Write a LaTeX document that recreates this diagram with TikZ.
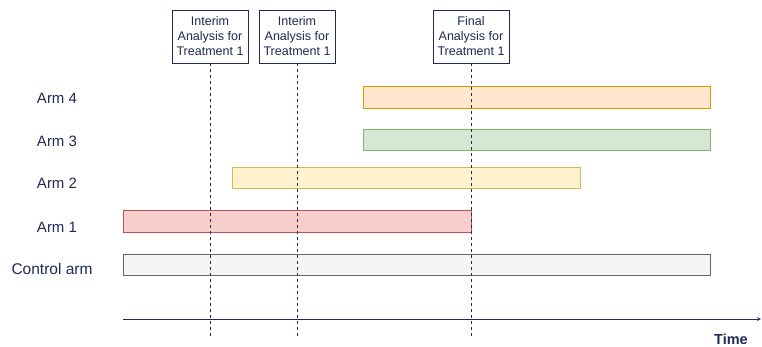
\documentclass[tikz,border=0pt]{standalone}
\usepackage{fontspec}
\setmainfont{Liberation Sans}
\definecolor{navy}{HTML}{1F2A55}
\definecolor{fillA}{HTML}{FFE6CC}\definecolor{lineA}{HTML}{D79B00}
\definecolor{fillB}{HTML}{D5E8D4}\definecolor{lineB}{HTML}{82B366}
\definecolor{fillC}{HTML}{FFF2CC}\definecolor{lineC}{HTML}{D6B656}
\definecolor{fillD}{HTML}{F8CECC}\definecolor{lineD}{HTML}{B85450}
\definecolor{fillE}{HTML}{F5F5F5}\definecolor{lineE}{HTML}{666666}
\tikzset{
  analysis/.style={draw=navy, fill=white, text=navy, align=center, font=\fontsize{12.5}{15}\selectfont,
    minimum width=76pt, minimum height=53pt, inner sep=1pt},
  armlabel/.style={text=navy, font=\fontsize{15}{18}\selectfont},
  cut/.style={navy, dash pattern=on 3pt off 3pt}
}
\begin{document}
\begin{tikzpicture}[x=1pt, y=-1pt]
    \useasboundingbox (0,0) rectangle (762,346);

    % bars
    \filldraw[fill=fillE, draw=lineE] (123,254) rectangle (710,275);
    \filldraw[fill=fillD, draw=lineD] (123,210) rectangle (471,232);
    \filldraw[fill=fillC, draw=lineC] (232,167) rectangle (580,188);
    \filldraw[fill=fillB, draw=lineB] (363,129) rectangle (710,150);
    \filldraw[fill=fillA, draw=lineA] (363,86) rectangle (710,108);

    \node[armlabel, font=\fontsize{15.5}{18}\selectfont] (ctrl) at (52,269) {Control arm};
    \node[armlabel] (arm1) at (57,227) {Arm 1};
    \node[armlabel] (arm2) at (57,183) {Arm 2};
    \node[armlabel] (arm3) at (57,141) {Arm 3};
    \node[armlabel] (arm4) at (57,98) {Arm 4};

    % analyses
    \node[analysis] (ia1) at (210,36.5) {Interim\\Analysis for\\Treatment 1};
    \node[analysis] (ia2) at (297,36.5) {Interim\\Analysis for\\Treatment 1};
    \node[analysis] (fa1) at (471,36.5) {Final\\Analysis for\\Treatment 1};
    \coordinate (ia1end) at (210,337);
    \coordinate (ia2end) at (297,337);
    \coordinate (fa1end) at (471,337);
    \draw[cut] (ia1) -- (ia1end);
    \draw[cut] (ia2) -- (ia2end);
    \draw[cut] (fa1) -- (fa1end);

    % time axis
    \coordinate (t0) at (123,319);
    \coordinate (t1) at (761,319);
    \draw[-stealth, navy, thick] (t0) -- (t1);
    \node[text=navy, inner sep=0pt, font=\fontsize{14.5}{17}\selectfont\bfseries] (time) at (731,339) {Time};
\end{tikzpicture}
\end{document}
